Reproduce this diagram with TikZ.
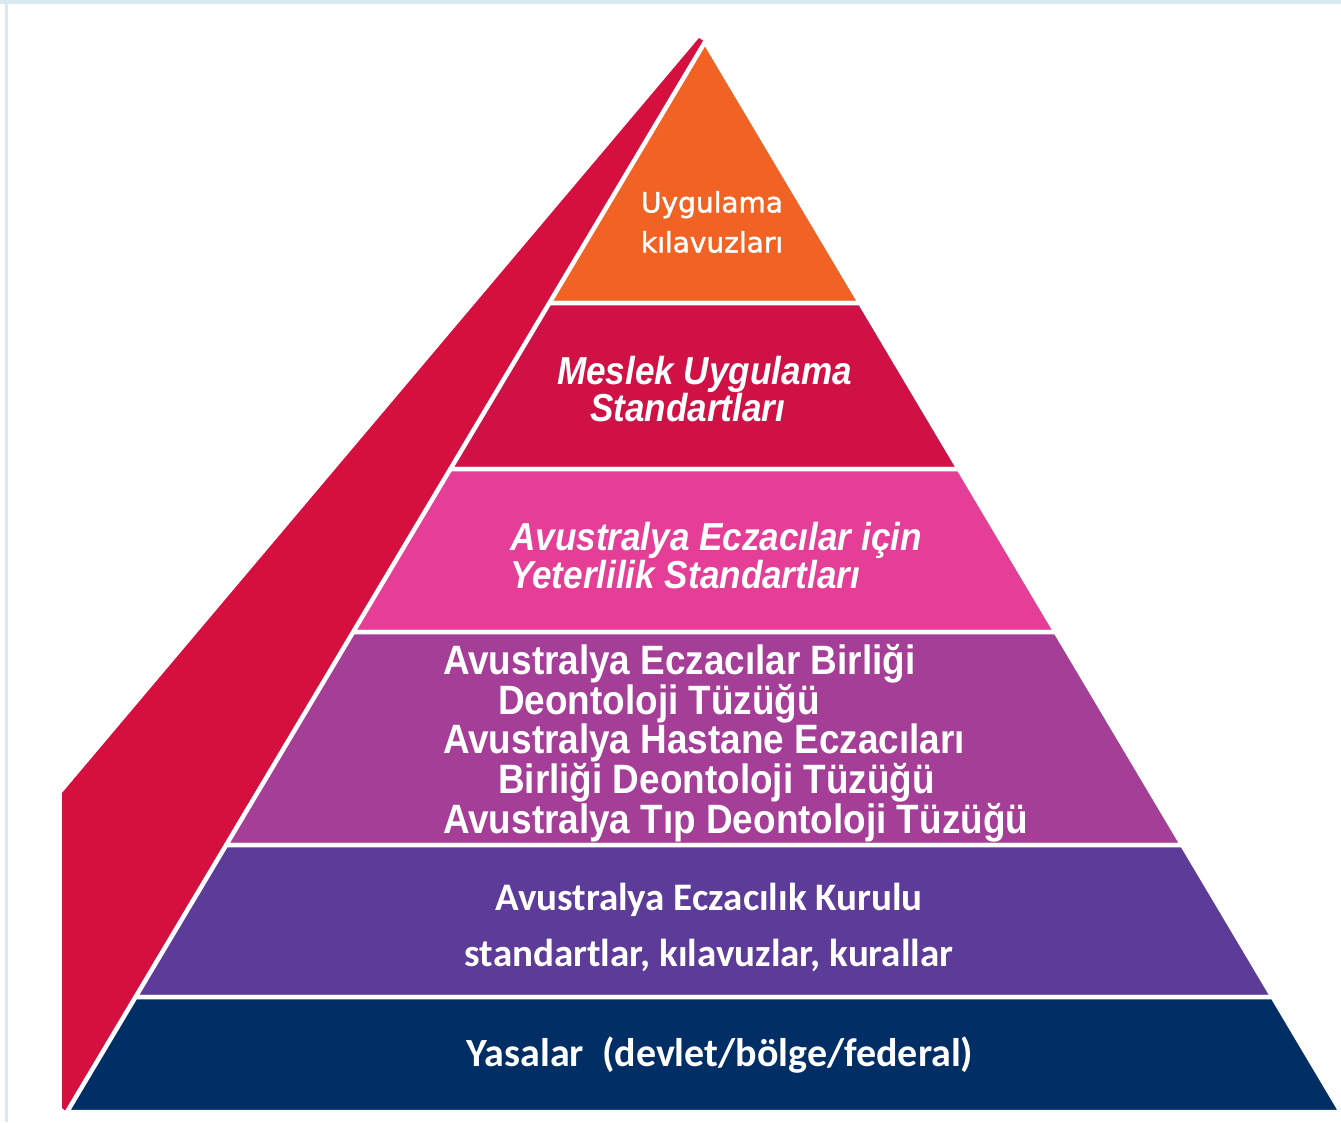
\documentclass[tikz,border=0pt]{standalone}
\usepackage{fontspec}
\setmainfont{Liberation Sans}
\newfontfamily\condfont{Liberation Sans}[FakeStretch=0.9]
\newfontfamily\califont{Carlito}
\newfontfamily\dejafont{DejaVu Sans}[FakeBold=1.5]
\usetikzlibrary{positioning}

\definecolor{framecol}{RGB}{214,234,240}
\definecolor{sidered}{RGB}{214,16,62}
\definecolor{tiporange}{RGB}{241,99,36}
\definecolor{crimsonlayer}{RGB}{208,17,70}
\definecolor{pinklayer}{RGB}{228,62,150}
\definecolor{magentalayer}{RGB}{164,62,150}
\definecolor{purplelayer}{RGB}{92,60,152}
\definecolor{navylayer}{RGB}{1,46,100}

\begin{document}
\begin{tikzpicture}[x=1pt, y=-1pt,
    layer/.style={draw=white, line width=4.5pt, line join=round},
    lbl/.style={text=white, inner sep=0pt}]
    \useasboundingbox (0,0) rectangle (1341,1122);
    % frame of the slide
    \fill[framecol] (0,0) rectangle (1341,4);
    \fill[framecol] (5,0) rectangle (8,1122);
    % side face
    \fill[sidered] (699,38) -- (62,793) -- (62,1108) -- (67,1112) -- (705,42) -- cycle;
    % front layers
    \foreach \ya/\yb/\col in {42/303/tiporange, 303/469/crimsonlayer, 469/632/pinklayer,
        632/845/magentalayer, 845/997/purplelayer, 997/1112/navylayer}
        \filldraw[layer, fill=\col] ({705-0.5963*(\ya-42)},\ya) -- ({705+0.5944*(\ya-42)},\ya)
            -- ({705+0.5944*(\yb-42)},\yb) -- ({705-0.5963*(\yb-42)},\yb) -- cycle;

    \node[lbl, align=center, font={\dejafont\fontsize{28}{40}\selectfont}] (guides) at (712,222)
        {Uygulama\\kılavuzları};
    \node[lbl, align=left, anchor=west, font={\condfont\bfseries\itshape\fontsize{39}{37}\selectfont}] (practice) at (557,389)
        {Meslek Uygulama\\\hspace*{33pt}Standartları};
    \node[lbl, align=left, anchor=west, font={\condfont\bfseries\itshape\fontsize{39}{38}\selectfont}] (competency) at (510,556)
        {Avustralya Eczacılar için\\Yeterlilik Standartları};
    \node[lbl, align=left, anchor=west, font={\condfont\bfseries\fontsize{41}{38}\selectfont}] (codes) at (443,743)
        {Avustralya Eczacılar Birliği\\\hspace*{55pt}Deontoloji Tüzüğü\\Avustralya Hastane Eczacıları\\
         \hspace*{55pt}Birliği Deontoloji Tüzüğü\\Avustralya Tıp Deontoloji Tüzüğü};
    \node[lbl, align=center, font={\califont\bfseries\fontsize{39}{56}\selectfont}] (board) at (709,927)
        {Avustralya Eczacılık Kurulu\\standartlar, kılavuzlar, kurallar};
    \node[lbl, font={\califont\bfseries\fontsize{40}{48}\selectfont}] (laws) at (720,1055)
        {Yasalar\ \ (devlet/bölge/federal)};
\end{tikzpicture}
\end{document}
